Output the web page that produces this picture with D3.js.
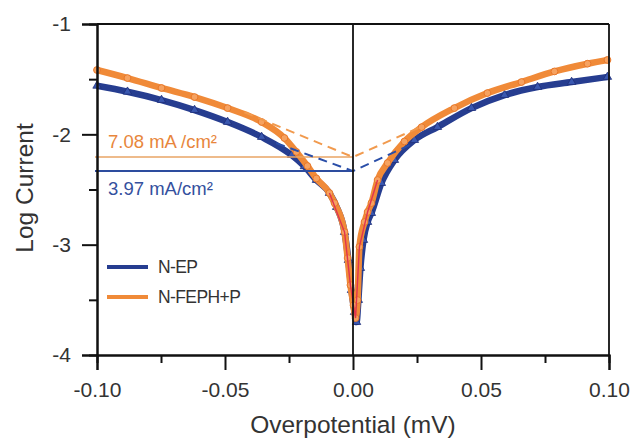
<!DOCTYPE html>
<html>
<head>
<meta charset="utf-8">
<script src="https://cdn.jsdelivr.net/npm/d3@7"></script>
<style>
  body { margin: 0; background: #fff; }
  text { font-family: "Liberation Sans", Arial, sans-serif; fill: #333; }
</style>
</head>
<body>
<div id="chart"></div>
<script>
// Tafel curves (overpotential, log current)
const epX = [-0.100, -0.0881, -0.0748, -0.0619, -0.0490, -0.0357, -0.0240, -0.0190, -0.0143, -0.0092,
             -0.0064, -0.0033, -0.0018, -0.0006, 0.0006, 0.0014, 0.0021, 0.0029, 0.0041, 0.0057,
             0.0072, 0.0111, 0.0162, 0.0240, 0.0330, 0.0463, 0.0592, 0.0721, 0.0854, 0.0994];
const epY = [-1.56, -1.614, -1.689, -1.780, -1.888, -2.024, -2.188, -2.29, -2.414, -2.532,
             -2.659, -2.886, -3.140, -3.412, -3.611, -3.702, -3.502, -3.212, -2.958, -2.795,
             -2.714, -2.442, -2.233, -2.052, -1.934, -1.762, -1.644, -1.571, -1.526, -1.480];

const fepX = [-0.100, -0.0881, -0.0748, -0.0619, -0.0490, -0.0357, -0.0268, -0.0221, -0.0178, -0.0143,
              -0.0092, -0.0072, -0.0033, -0.0021, -0.0010, 0.0002, 0.0010, 0.0018, 0.0025, 0.0045,
              0.0057, 0.0072, 0.0096, 0.0135, 0.0201, 0.0268, 0.0396, 0.0525, 0.0658, 0.0787,
              0.0916, 0.0994];
const fepY = [-1.417, -1.490, -1.580, -1.662, -1.762, -1.888, -2.033, -2.160, -2.287, -2.400,
              -2.532, -2.623, -2.886, -3.121, -3.366, -3.548, -3.665, -3.502, -3.02, -2.795,
              -2.704, -2.623, -2.414, -2.260, -2.065, -1.935, -1.762, -1.626, -1.526, -1.430,
              -1.360, -1.326];

// tafel extrapolations: corners of the dashed lines
const fepTafelX = [-0.0424, 0, 0.0267];
const fepTafelY = [-1.80, -2.206, -1.93];
const epTafelX = [-0.030, 0, 0.0228];
const epTafelY = [-2.08, -2.333, -2.09];

// red fit line through the dip
const fitX = [-0.0092, -0.0033, -0.0010, 0.0010, 0.0025, 0.0057, 0.0096];
const fitY = [-2.532, -2.886, -3.366, -3.665, -3.02, -2.704, -2.414];

const seriesNames = ["N-EP", "N-FEPH+P"];
const currentLabels = ["7.08 mA /cm\u00b2", "3.97 mA/cm\u00b2"];
const yTicks = [-1, -2, -3, -4];
const yMinor = [-1.5, -2.5, -3.5];
const xTicks = [-0.10, -0.05, 0.00, 0.05, 0.10];
const xMinor = [-0.075, -0.025, 0.025, 0.075];

const BLUE = "#263d90";
const ORANGE = "#f08a38";

const W = 633, H = 439;
const svg = d3.select("#chart").append("svg").attr("width", W).attr("height", H);

const x = d3.scaleLinear().domain([-0.1, 0.1]).range([97, 609]);
const y = d3.scaleLinear().domain([-4, -1]).range([355, 24]);

function pts(xs, ys) {
    return xs.map((v, i) => [v, ys[i]]);
}
const line = d3.line().x(d => x(d[0])).y(d => y(d[1]));
const smooth = d3.line().x(d => x(d[0])).y(d => y(d[1])).curve(d3.curveMonotoneX);

// data bands
const ep = pts(epX, epY);
const fep = pts(fepX, fepY);

svg.append("path").attr("d", smooth(ep)).attr("fill", "none")
    .attr("stroke", BLUE).attr("stroke-width", 6.5).attr("stroke-linejoin", "round");
svg.selectAll(".ep").data(ep).enter().append("path")
    .attr("class", "ep")
    .attr("transform", d => "translate(" + x(d[0]) + "," + y(d[1]) + ")")
    .attr("d", d3.symbol().type(d3.symbolTriangle).size(30))
    .attr("fill", "#3a58b0").attr("stroke", "#1e2f78").attr("stroke-width", 0.8);

svg.append("path").attr("d", smooth(fep)).attr("fill", "none")
    .attr("stroke", ORANGE).attr("stroke-width", 6.5).attr("stroke-linejoin", "round");
svg.selectAll(".fep").data(fep).enter().append("circle")
    .attr("class", "fep")
    .attr("cx", d => x(d[0])).attr("cy", d => y(d[1])).attr("r", 3.4)
    .attr("fill", "#f6a260").attr("stroke", "#e8782a").attr("stroke-width", 1);

svg.append("path").attr("d", line(pts(fitX, fitY))).attr("fill", "none")
    .attr("stroke", "#e0344f").attr("stroke-width", 1.4);

// horizontal current lines
svg.append("line").attr("x1", 95).attr("x2", x(0)).attr("y1", y(fepTafelY[1])).attr("y2", y(fepTafelY[1]))
    .attr("stroke", "#e9a464").attr("stroke-width", 1.6);
svg.append("line").attr("x1", 95).attr("x2", x(0)).attr("y1", y(epTafelY[1])).attr("y2", y(epTafelY[1]))
    .attr("stroke", "#2d4c9e").attr("stroke-width", 2);

// dashed tafel extrapolations
svg.append("path").attr("d", line(pts(fepTafelX, fepTafelY))).attr("fill", "none")
    .attr("stroke", "#f19a4e").attr("stroke-width", 2).attr("stroke-dasharray", "9,6");
svg.append("path").attr("d", line(pts(epTafelX, epTafelY))).attr("fill", "none")
    .attr("stroke", "#2a4ea8").attr("stroke-width", 2).attr("stroke-dasharray", "9,6");

// frame: top, right and the zero line
svg.append("line").attr("x1", x(-0.1)).attr("x2", x(0.1)).attr("y1", y(-1)).attr("y2", y(-1))
    .attr("stroke", "#111").attr("stroke-width", 1.8);
svg.append("line").attr("x1", x(0.1)).attr("x2", x(0.1)).attr("y1", y(-1)).attr("y2", y(-4))
    .attr("stroke", "#111").attr("stroke-width", 1.8);
svg.append("line").attr("x1", x(0)).attr("x2", x(0)).attr("y1", y(-1)).attr("y2", y(-4))
    .attr("stroke", "#111").attr("stroke-width", 1.8);

// axes
svg.append("g").attr("transform", "translate(" + x(-0.1) + ",0)")
    .call(d3.axisLeft(y).tickValues(yTicks).tickSize(15).tickPadding(11).tickFormat(d3.format("d")));
svg.append("g").attr("transform", "translate(" + x(-0.1) + ",0)")
    .call(d3.axisLeft(y).tickValues(yMinor).tickSize(8).tickFormat(""));
svg.append("g").attr("transform", "translate(0," + y(-4) + ")")
    .call(d3.axisBottom(x).tickValues(xTicks).tickSize(15).tickPadding(12).tickFormat(d3.format(".2f")));
svg.append("g").attr("transform", "translate(0," + y(-4) + ")")
    .call(d3.axisBottom(x).tickValues(xMinor).tickSize(8).tickFormat(""));

svg.selectAll(".domain").attr("stroke", "#111").attr("stroke-width", 2);
svg.selectAll(".tick line").attr("stroke", "#111").attr("stroke-width", 2);
svg.selectAll(".tick text").style("font-size", "21px").attr("fill", "#3a3a3a")
    .style("font-family", "'Liberation Sans', Arial, sans-serif");
// d3 uses a unicode minus; the picture has a plain hyphen
svg.selectAll(".tick text").text(function () { return this.textContent.replace("\u2212", "-"); });

// axis titles
svg.append("text").attr("x", 353).attr("y", 433).attr("text-anchor", "middle")
    .style("font-size", "24.5px").text("Overpotential (mV)");
svg.append("text").attr("transform", "translate(33,188) rotate(-90)").attr("text-anchor", "middle")
    .style("font-size", "24.5px").text("Log Current");

// current density labels
svg.append("text").attr("x", 108).attr("y", 148).style("font-size", "18.5px")
    .style("fill", "#e8863c").text(currentLabels[0]);
svg.append("text").attr("x", 108).attr("y", 195).style("font-size", "18.5px")
    .style("fill", "#34509e").text(currentLabels[1]);

// legend
const legendColors = [BLUE, ORANGE];
const legend = svg.selectAll(".legend").data(seriesNames).enter().append("g")
    .attr("class", "legend")
    .attr("transform", (d, i) => "translate(107," + (267 + i * 30) + ")");
legend.append("line").attr("x1", 0).attr("x2", 41)
    .attr("stroke", (d, i) => legendColors[i]).attr("stroke-width", 4);
legend.append("text").attr("x", 51).attr("dy", "0.36em").style("font-size", "17.5px")
    .style("letter-spacing", "-0.6px").text(d => d);
</script>
</body>
</html>
